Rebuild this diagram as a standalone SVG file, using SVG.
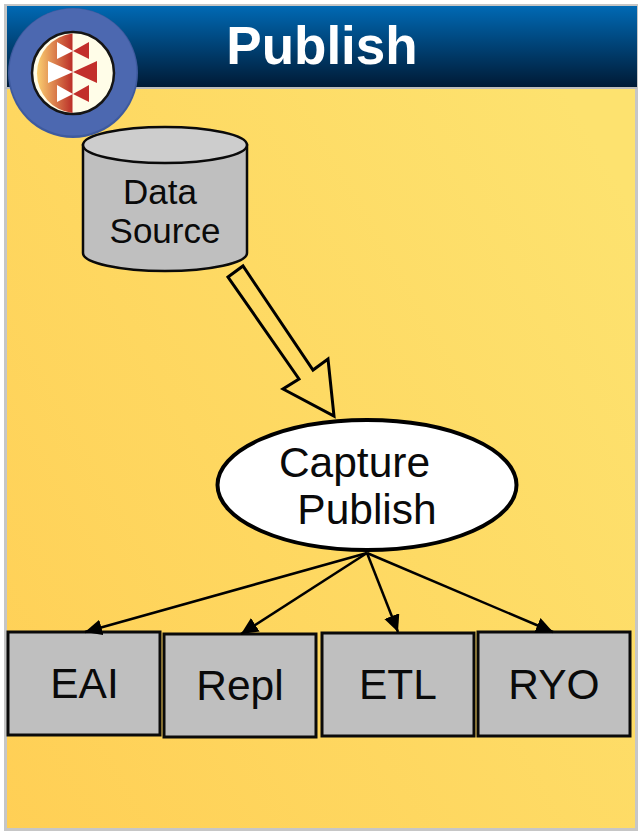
<svg xmlns="http://www.w3.org/2000/svg" width="640" height="832" viewBox="0 0 640 832">
<style>
text{font-family:"Liberation Sans",Arial,sans-serif;fill:#0a0a0a;text-anchor:middle}
.box{fill:#bfbfbf;stroke:#0a0a0a;stroke-width:3}
.lbl{font-size:42.500px}
.conn{stroke:#000;stroke-width:2.500;fill:none}
</style>
<defs>
<linearGradient id="bg" x1="0" y1="1" x2="1" y2="0.25"><stop offset="0" stop-color="#ffcf55"/><stop offset="1" stop-color="#fde26f"/></linearGradient>
<linearGradient id="hdr" x1="0" y1="0" x2="0" y2="1"><stop offset="0" stop-color="#0069b4"/><stop offset="1" stop-color="#001a35"/></linearGradient>
<linearGradient id="lft" x1="0" y1="0" x2="1" y2="0"><stop offset="0" stop-color="#fbd071"/><stop offset="1" stop-color="#bb2e28"/></linearGradient>
<marker id="arr" markerUnits="userSpaceOnUse" markerWidth="20" markerHeight="18" refX="17" refY="8" orient="auto"><path d="M0 0L17 8L0 16Z" fill="#000"/></marker>
</defs>
<g id="background">
<rect x="5.500" y="5.500" width="631" height="824" fill="url(#bg)" stroke="#c6c6c6" stroke-width="3"/>
<rect x="7" y="6" width="630" height="81" fill="url(#hdr)"/>
<rect x="5" y="87" width="632" height="2" fill="#bdbdbd"/>
<text x="322" y="64" font-size="53" font-weight="700" style="fill:#fff">Publish</text>
</g>
<g id="logo">
<circle cx="73" cy="73" r="65" fill="#3e5a9e"/>
<circle cx="73" cy="72" r="63.500" fill="#4c68b0"/>
<circle cx="73" cy="73" r="41" fill="#fffde8" stroke="#151515" stroke-width="2.500"/>
<path d="M72.500 33.500A40 40 0 0 0 72.500 113Z" fill="url(#lft)"/>
<path d="M57 42L73 51L57 59ZM48 61L73 72L48 83ZM57 85L73 94L57 102Z" fill="#fff"/>
<path d="M89 42L73 51L89 59ZM97 61L73 72L97 83ZM89 85L73 94L89 102Z" fill="#c22f2b"/>
</g>
<g id="data-source">
<path d="M83 145V253C83 263 120 271 165 271S247 263 247 253V145Z" fill="#bfbfbf" stroke="#0a0a0a" stroke-width="2.500"/>
<ellipse cx="165" cy="145" rx="82" ry="18" fill="#cdcdcd" stroke="#0a0a0a" stroke-width="2.500"/>
<text x="160" y="204" font-size="35">Data</text>
<text x="165" y="243" font-size="35">Source</text>
</g>
<g id="capture-publish">
<ellipse cx="367" cy="485" rx="149.500" ry="65" fill="#fff" stroke="#000" stroke-width="4"/>
<text x="354.500" y="477" class="lbl">Capture</text>
<text x="367" y="524" class="lbl">Publish</text>
</g>
<g id="eai"><rect class="box" x="8" y="632" width="152" height="103"/><text x="84.500" y="698" class="lbl">EAI</text></g>
<g id="repl"><rect class="box" x="164" y="634" width="152" height="103"/><text x="240" y="700" class="lbl">Repl</text></g>
<g id="etl"><rect class="box" x="322" y="633" width="152" height="103"/><text x="398" y="699" class="lbl">ETL</text></g>
<g id="ryo"><rect class="box" x="478" y="632" width="152" height="104"/><text x="554" y="699" class="lbl">RYO</text></g>
<g id="connectors">
<path d="M228 277L243 266L313 370L328 359L334 416L283 389L299 379Z" fill="none" stroke="#000" stroke-width="3"/>
<path class="conn" marker-end="url(#arr)" d="M367 553L85 632"/>
<path class="conn" marker-end="url(#arr)" d="M367 553L241 634"/>
<path class="conn" marker-end="url(#arr)" d="M367 553L398 632"/>
<path class="conn" marker-end="url(#arr)" d="M367 553L553 632"/>
</g>
</svg>
